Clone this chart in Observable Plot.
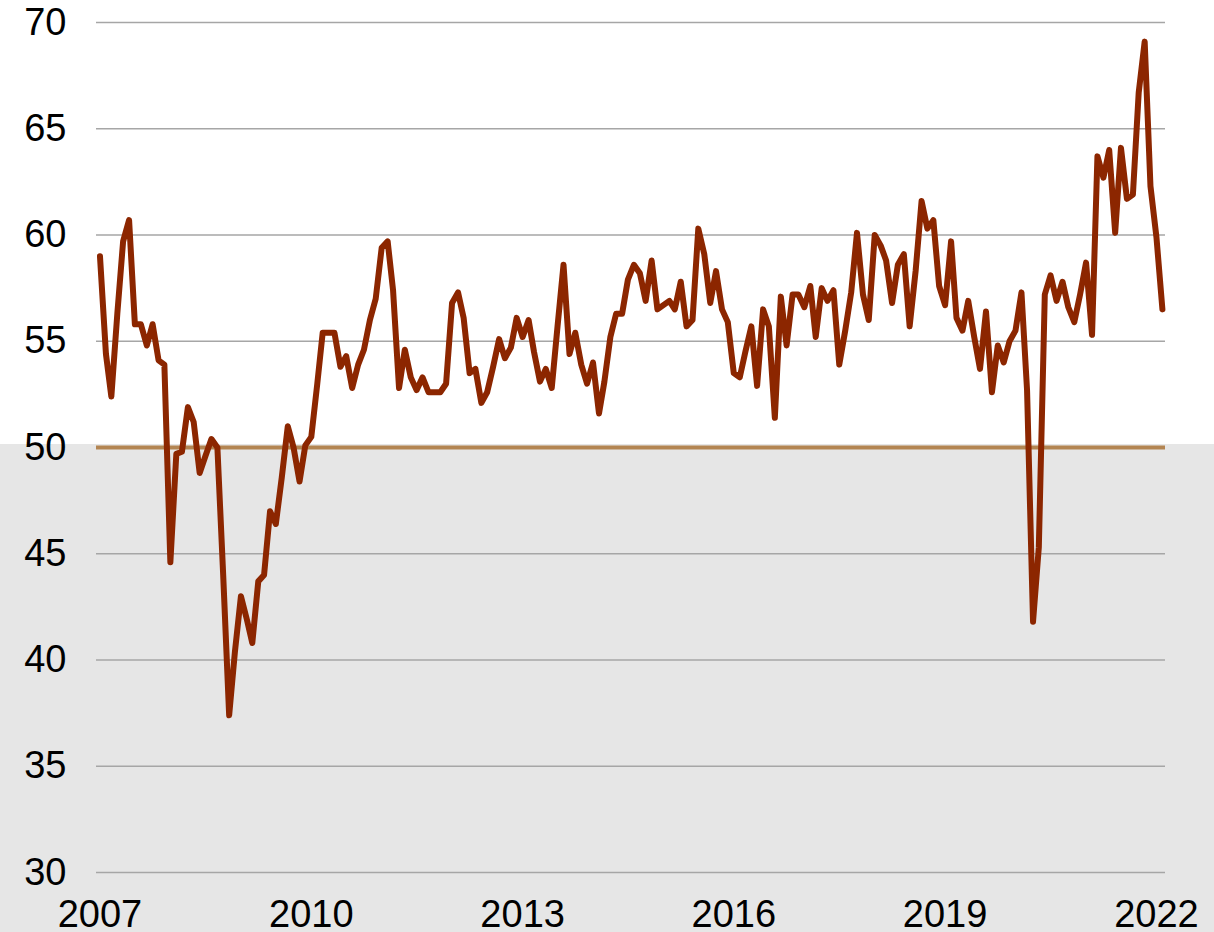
<!DOCTYPE html>
<html>
<head>
<meta charset="utf-8">
<script src="https://cdn.jsdelivr.net/npm/d3@7"></script>
<script src="https://cdn.jsdelivr.net/npm/@observablehq/plot@0.6"></script>
<style>
  html, body { margin: 0; padding: 0; background: #ffffff; overflow: hidden; }
  #chart { width: 1214px; height: 932px; }
</style>
</head>
<body>
<div id="chart"></div>
<script>
// Monthly index values, January 2007 – February 2022
const startYear = 2007;
const values = [
  59.0, 54.4, 52.4, 56.3, 59.7, 60.7, 55.8, 55.8, 54.8, 55.8, 54.1, 53.9, // 2007
  44.6, 49.7, 49.8, 51.9, 51.2, 48.8, 49.6, 50.4, 50.0, 44.0, 37.4, 40.4, // 2008
  43.0, 41.9, 40.8, 43.7, 44.0, 47.0, 46.4, 48.6, 51.0, 50.0, 48.4, 50.1, // 2009
  50.5, 53.0, 55.4, 55.4, 55.4, 53.8, 54.3, 52.8, 53.9, 54.6, 56.0, 57.0, // 2010
  59.4, 59.7, 57.4, 52.8, 54.6, 53.3, 52.7, 53.3, 52.6, 52.6, 52.6, 53.0, // 2011
  56.8, 57.3, 56.1, 53.5, 53.7, 52.1, 52.6, 53.8, 55.1, 54.2, 54.7, 56.1, // 2012
  55.2, 56.0, 54.5, 53.1, 53.7, 52.8, 55.7, 58.6, 54.4, 55.4, 53.9, 53.0, // 2013
  54.0, 51.6, 53.1, 55.2, 56.3, 56.3, 57.9, 58.6, 58.2, 56.9, 58.8, 56.5, // 2014
  56.7, 56.9, 56.5, 57.8, 55.7, 56.0, 60.3, 59.1, 56.8, 58.3, 56.5, 55.9, // 2015
  53.5, 53.3, 54.5, 55.7, 52.9, 56.5, 55.7, 51.4, 57.1, 54.8, 57.2, 57.2, // 2016
  56.6, 57.6, 55.2, 57.5, 56.9, 57.4, 53.9, 55.5, 57.3, 60.1, 57.2, 56.0, // 2017
  60.0, 59.5, 58.8, 56.8, 58.6, 59.1, 55.7, 58.3, 61.6, 60.3, 60.7, 57.6, // 2018
  56.7, 59.7, 56.1, 55.5, 56.9, 55.2, 53.7, 56.4, 52.6, 54.8, 54.0, 55.0, // 2019
  55.5, 57.3, 52.7, 41.8, 45.3, 57.2, 58.1, 56.9, 57.8, 56.6, 55.9, 57.2, // 2020
  58.7, 55.3, 63.7, 62.7, 64.0, 60.1, 64.1, 61.7, 61.9, 66.7, 69.1, 62.3, // 2021
  59.9, 56.5                                                              // 2022
];
const yearTicks = [2007, 2010, 2013, 2016, 2019, 2022];
const valueTicks = [30, 35, 40, 45, 50, 55, 60, 65, 70];
const threshold = 50;

const data = values.map((v, i) => ({
  date: new Date(Date.UTC(startYear + Math.floor(i / 12), i % 12, 1)),
  value: v
}));

const W = 1214, H = 932;
const mL = 96, mR = 49, mT = 22, mB = 60;
const xDomain = [new Date(Date.UTC(2006, 11, 14)), new Date(Date.UTC(2022, 1, 17))];

const chart = Plot.plot({
  width: W,
  height: H,
  marginLeft: mL,
  marginRight: mR,
  marginTop: mT,
  marginBottom: mB,
  style: { fontFamily: "'Liberation Sans', Arial, sans-serif", fontSize: "38px", color: "#000", background: "transparent", overflow: "visible" },
  x: { type: "utc", domain: xDomain, label: null },
  y: { domain: [30, 70], label: null },
  marks: [
    Plot.rect([{}], {
      x1: () => xDomain[0], x2: () => xDomain[1],
      y1: () => threshold, y2: () => 30,
      insetLeft: -mL, insetRight: -mR, insetBottom: -mB, insetTop: -3,
      fill: "#e6e6e6"
    }),
    Plot.ruleY(valueTicks, { stroke: "#a6a6a6", strokeWidth: 1.5 }),
    Plot.ruleY([threshold], { stroke: "#b38552", strokeWidth: 4 }),
    Plot.line(data, {
      x: "date", y: "value",
      stroke: "#8c2600", strokeWidth: 6,
      strokeLinejoin: "round", strokeLinecap: "round"
    }),
    Plot.axisY({ ticks: valueTicks, tickSize: 0, tickPadding: 30, fontSize: 38, label: null }),
    Plot.axisX({
      ticks: yearTicks.map(y => new Date(Date.UTC(y, 0, 1))),
      tickFormat: d3.utcFormat("%Y"),
      tickSize: 0, tickPadding: 28, fontSize: 38, label: null
    })
  ]
});
document.getElementById("chart").appendChild(chart);
</script>
</body>
</html>
